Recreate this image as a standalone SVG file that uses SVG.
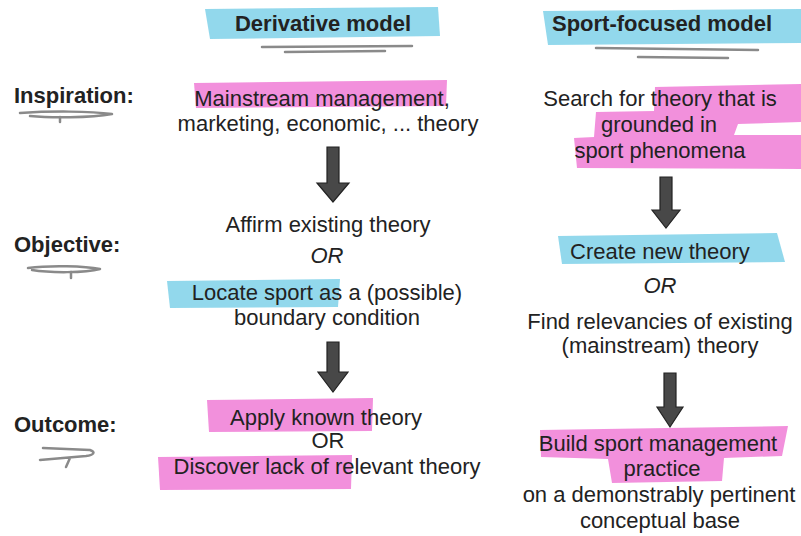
<svg xmlns="http://www.w3.org/2000/svg" width="801" height="536" viewBox="0 0 801 536">
<style>
.t{font-family:"Liberation Sans",Arial,sans-serif;font-size:22px;fill:#222;text-anchor:middle}
.b{font-weight:bold;font-size:22px}
.i{font-style:italic}
.l{text-anchor:start}
.pk{fill:#f07dd6;opacity:0.85}
.cy{fill:#86d4ea;opacity:0.9}
.sc{fill:none;stroke:#8a8a8a;stroke-width:2.5;stroke-linecap:round;stroke-linejoin:round}
.ar{fill:#484848;stroke:#222;stroke-width:1.2}
</style>
<rect width="801" height="536" fill="#fff"/>

<g id="header-derivative">
<path class="cy" d="M205,9 L438,7 L440,36 L210,39 Z"/>
<text class="t b" x="323" y="31">Derivative model</text>
<path class="sc" d="M262,47 L412,46 M285,52 L385,51" stroke-width="2"/>
</g>
<g id="header-sport">
<path class="cy" d="M543,11 L801,9 L801,43 L548,45 Z"/>
<text class="t b" x="662" y="31">Sport-focused model</text>
<path class="sc" d="M596,48 L758,50 M638,57 L728,58" stroke-width="2"/>
</g>

<g id="label-inspiration">
<text class="t b l" x="14" y="103">Inspiration:</text>
<path class="sc" d="M20,113 C50,111 90,111 112,114 C90,118 50,118 30,116 M60,117 L60,122"/>
</g>
<g id="label-objective">
<text class="t b l" x="14" y="252">Objective:</text>
<path class="sc" d="M28,268 C50,265 85,266 100,269 C85,273 50,273 32,270 M71,272 L71,278"/>
</g>
<g id="label-outcome">
<text class="t b l" x="14" y="432">Outcome:</text>
<path class="sc" d="M43,448 L90,450 C96,452 94,455 86,456 L40,460 M70,458 L66,467"/>
</g>

<g id="node-mainstream">
<path class="pk" d="M194,83 L447,80 L446,106 L196,108 Z"/>
<text class="t" x="322" y="106">Mainstream management,</text>
<text class="t" x="328" y="131">marketing, economic, ... theory</text>
</g>
<g id="node-affirm">
<path class="cy" d="M167,281 L340,279 L338,307 L170,308 Z"/>
<text class="t" x="328" y="232">Affirm existing theory</text>
<text class="t i" x="327" y="263">OR</text>
<text class="t" x="327" y="300">Locate sport as a (possible)</text>
<text class="t" x="327" y="325">boundary condition</text>
</g>
<g id="node-apply">
<path class="pk" d="M207,400 L373,398 L372,431 L209,432 Z"/>
<path class="pk" d="M158,457 L352,455 L351,489 L160,490 Z"/>
<text class="t" x="326" y="425">Apply known theory</text>
<text class="t" x="328" y="448">OR</text>
<text class="t" x="327" y="474">Discover lack of relevant theory</text>
</g>

<g id="node-search">
<path class="pk" d="M655,87 L801,84 L801,122 L738,124 L734,135 L801,135 L801,169 L577,168 L574,138 L594,137 L596,112 L654,111 Z"/>
<text class="t" x="660" y="106">Search for theory that is</text>
<text class="t" x="659" y="132">grounded in</text>
<text class="t" x="660" y="158">sport phenomena</text>
</g>
<g id="node-create">
<path class="cy" d="M558,236 L777,233 L785,262 L562,264 Z"/>
<text class="t" x="660" y="259">Create new theory</text>
<text class="t i" x="660" y="293">OR</text>
<text class="t" x="660" y="329">Find relevancies of existing</text>
<text class="t" x="660" y="353">(mainstream) theory</text>
</g>
<g id="node-build">
<path class="pk" d="M540,430 L788,426 L782,456 L724,458 L722,481 L612,483 L608,459 L541,457 Z"/>
<text class="t" x="658" y="451">Build sport management</text>
<text class="t" x="662" y="476">practice</text>
<text class="t" x="659" y="502">on a demonstrably pertinent</text>
<text class="t" x="660" y="528">conceptual base</text>
</g>

<g id="connectors">
<path class="ar" d="M327,147 L339,147 L339,183 L349,183 L333,202 L317,183 L327,183 Z"/>
<path class="ar" d="M327,342 L339,342 L339,372 L348,372 L333,392 L318,372 L327,372 Z"/>
<path class="ar" d="M660,177 L672,177 L672,210 L680,210 L666,228 L652,210 L660,210 Z"/>
<path class="ar" d="M664,373 L676,373 L676,407 L683,407 L670,427 L657,407 L664,407 Z"/>
</g>
</svg>
